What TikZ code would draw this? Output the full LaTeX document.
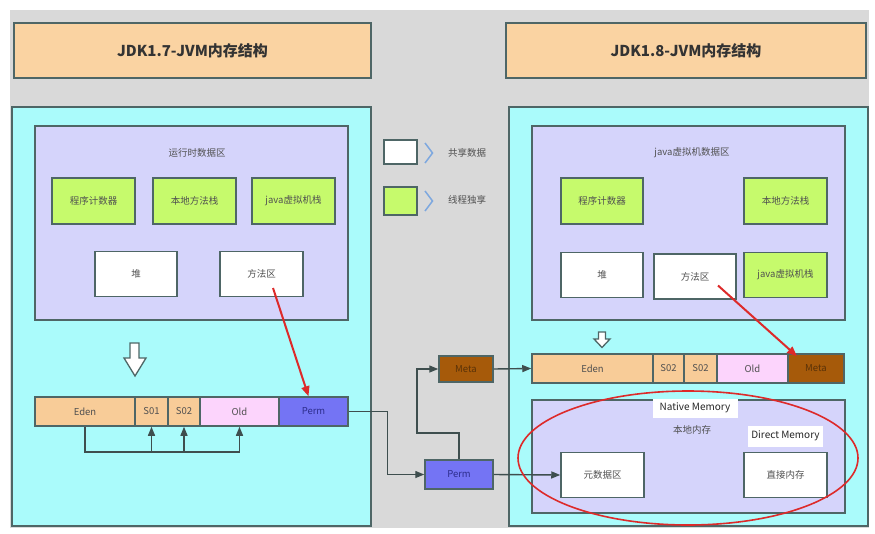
\documentclass[tikz,border=0pt]{standalone}
\usepackage{fontspec}
\setmainfont{Noto Sans CJK SC}
\usetikzlibrary{arrows.meta}
\definecolor{bgGray}{HTML}{D9D9D9}
\definecolor{titleFill}{HTML}{FAD3A2}
\definecolor{cyanFill}{HTML}{AAFBFB}
\definecolor{lavFill}{HTML}{D5D4FB}
\definecolor{greenFill}{HTML}{C6FA6C}
\definecolor{edenFill}{HTML}{F8CC98}
\definecolor{oldFill}{HTML}{FCD4FC}
\definecolor{permFill}{HTML}{7474F4}
\definecolor{metaFill}{HTML}{A65A0A}
\definecolor{edgeCol}{HTML}{4E6666}
\definecolor{lineCol}{HTML}{3E4E4E}
\definecolor{txtCol}{HTML}{505050}
\definecolor{redCol}{HTML}{DD2A2A}
\definecolor{chevCol}{HTML}{7EA8DF}
\definecolor{metaTxt}{HTML}{5A3208}
\definecolor{permTxt}{HTML}{2E2E8E}
\tikzset{
  base/.style={draw=edgeCol,line width=1.5pt,inner sep=0pt,font=\fontsize{9.5}{11}\selectfont,text=txtCol},
  titlebox/.style={base,fill=titleFill,minimum height=55pt,font=\fontsize{15}{18}\selectfont\bfseries,text=black!80},
  panel/.style={base,fill=cyanFill,minimum height=419pt,minimum width=359pt},
  lav/.style={base,fill=lavFill},
  gbox/.style={base,fill=greenFill,minimum width=83pt,minimum height=46pt},
  wbox/.style={base,fill=white,minimum width=83pt,minimum height=45pt},
  seg/.style={base,minimum height=29pt},
  lbl/.style={inner sep=1pt,font=\fontsize{9.5}{11}\selectfont,text=txtCol},
  tagbox/.style={fill=white,inner sep=0pt,font=\fontsize{10}{12}\selectfont,text=black!85},
  conn/.style={draw=lineCol,line width=1.4pt,-{Triangle[length=9pt,width=7pt]}},
  plain/.style={draw=lineCol,line width=1.4pt},
  redarrow/.style={draw=redCol,line width=2pt,-{Triangle[length=10pt,width=8pt]}},
  hollow/.style={draw=edgeCol,fill=white,line width=1.3pt,line join=miter},
  chev/.style={draw=chevCol,line width=1.5pt}
}
\begin{document}
\begin{tikzpicture}[x=1pt,y=-1pt]
\useasboundingbox (0,0) rectangle (875,533);
\fill[bgGray] (10,10) rectangle (869,528);
% titles
\node[titlebox,minimum width=357pt] (titleL) at (192.5,50.5) {JDK1.7-JVM内存结构};
\node[titlebox,minimum width=360pt] (titleR) at (686,50.5) {JDK1.8-JVM内存结构};
% panels
\node[panel] (panelL) at (191.5,316.5) {};
\node[panel] (panelR) at (688.5,316.5) {};
\node[lav,minimum width=313pt,minimum height=194pt] (lavL) at (191.5,223) {};
\node[lav,minimum width=313pt,minimum height=194pt] (lavR) at (688.5,223) {};
% left runtime area
\node[lbl] (rtL) at (197,153) {运行时数据区};
\node[gbox] (pcL) at (93.5,201) {程序计数器};
\node[gbox] (nsL) at (194.5,201) {本地方法栈};
\node[gbox] (jsL) at (293.5,201) {java虚拟机栈};
\node[wbox,minimum width=82pt] (heapL) at (136,274) {堆};
\node[wbox] (maL) at (261.5,274) {方法区};
% right data area
\node[lbl] (rtR) at (692,153) {java虚拟机数据区};
\node[gbox,minimum width=82pt] (pcR) at (602,201) {程序计数器};
\node[gbox] (nsR) at (785.5,201) {本地方法栈};
\node[wbox,minimum width=82pt] (heapR) at (602,275) {堆};
\node[wbox,minimum width=82pt] (maR) at (695,276.5) {方法区};
\node[gbox,minimum height=45pt] (jsR) at (785.5,275) {java虚拟机栈};
% legend
\node[base,fill=white,minimum width=33pt,minimum height=24pt] (legW) at (400.5,152) {};
\node[base,fill=greenFill,minimum width=33pt,minimum height=28pt] (legG) at (400.5,201) {};
\draw[chev] (425,143) -- (432.5,153) -- (425,163);
\draw[chev] (425,191) -- (432.5,201) -- (425,211);
\node[lbl] (legWt) at (467,153) {共享数据};
\node[lbl] (legGt) at (467,200) {线程独享};
% hollow arrows
\draw[hollow] (130,343) -- (139,343) -- (139,358) -- (146,358) -- (135,376) -- (124,358) -- (130,358) -- cycle;
\draw[hollow] (598.5,332) -- (605.5,332) -- (605.5,339) -- (610,339) -- (602,347.5) -- (594,339) -- (598.5,339) -- cycle;
% left bar
\node[seg,fill=edenFill,minimum width=100pt] (edenL) at (85,411.5) {Eden};
\node[seg,fill=edenFill,minimum width=33pt] (s01L) at (151.5,411.5) {S01};
\node[seg,fill=edenFill,minimum width=32pt] (s02L) at (184,411.5) {S02};
\node[seg,fill=oldFill,minimum width=79pt] (oldL) at (239.5,411.5) {Old};
\node[seg,fill=permFill,minimum width=69pt,text=permTxt] (permL) at (313.5,411.5) {Perm};
% right bar
\node[seg,fill=edenFill,minimum width=121pt] (edenR) at (592.5,368.5) {Eden};
\node[seg,fill=edenFill,minimum width=31pt] (s02aR) at (668.5,368.5) {S02};
\node[seg,fill=edenFill,minimum width=33pt] (s02bR) at (700.5,368.5) {S02};
\node[seg,fill=oldFill,minimum width=71pt] (oldR) at (752.5,368.5) {Old};
\node[seg,fill=metaFill,minimum width=56pt,text=metaTxt] (metaR) at (816,368.5) {Meta};
% middle boxes
\node[base,fill=metaFill,minimum width=54pt,minimum height=26pt,text=metaTxt] (metaBox) at (466,369) {Meta};
\node[base,fill=permFill,minimum width=68pt,minimum height=29pt,text=permTxt] (permBox) at (459,474.5) {Perm};
% native memory area
\node[lav,minimum width=313pt,minimum height=113pt] (nativeR) at (688.5,456.5) {};
\node[tagbox,minimum width=85pt,minimum height=19pt] (nmTag) at (695,408) {Native Memory};
\node[lbl] (nmZh) at (692,430) {本地内存};
\node[tagbox,minimum width=75pt,minimum height=21pt] (dmTag) at (785.5,436) {Direct Memory};
\node[wbox] (yuan) at (602.5,475) {元数据区};
\node[wbox] (direct) at (785.5,475) {直接内存};
% left connectors
\coordinate (busL) at (85,452);
\draw[plain] (edenL.south) -- (busL) -- (busL -| oldL.south);
\draw[conn] (busL -| s01L.south) -- (s01L.south);
\draw[conn] (busL -| s02L.south) -- (s02L.south);
\draw[conn] (busL -| oldL.south) -- (oldL.south);
% cross connectors
\draw[conn] (permL.east) -- ++(39,0) |- (permBox.west);
\coordinate (bend) at (417,433);
\draw[conn] (permBox.north) |- (bend) |- (metaBox.west);
\draw[conn] (metaBox.east) -- (edenR.west);
\draw[conn] (permBox.east) -- (yuan.west);
% red arrows
\draw[redarrow] ([xshift=11.5pt,yshift=-14pt]maL.center) -- ([xshift=-5pt]permL.north);
\draw[redarrow] ([xshift=23pt,yshift=-9pt]maR.center) -- ([xshift=-19pt,yshift=-3pt]metaR.north);
% red ellipse
\draw[redCol,line width=1.6pt] (688,458) ellipse [x radius=170, y radius=67];
\end{tikzpicture}
\end{document}
